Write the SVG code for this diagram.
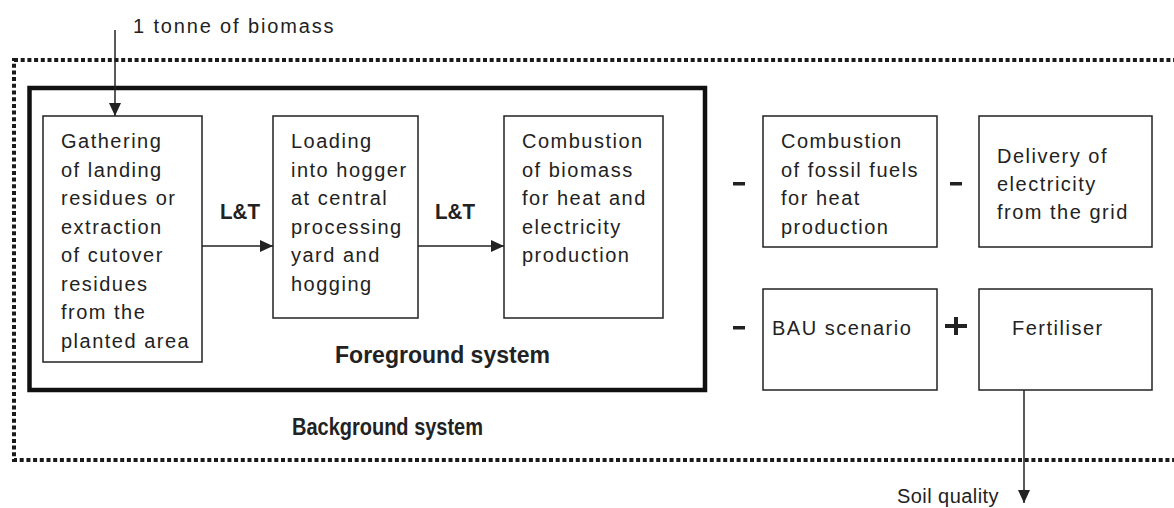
<svg xmlns="http://www.w3.org/2000/svg" width="1174" height="508" viewBox="0 0 1174 508">
<style>
.box{fill:#fff;stroke:#222;stroke-width:1.5}
.t{font-family:"Liberation Sans",Arial,sans-serif;font-size:20px;letter-spacing:1.5px;fill:#222}
.b{font-family:"Liberation Sans",Arial,sans-serif;font-size:22px;font-weight:bold;fill:#222}
.ln{stroke:#222;stroke-width:1.5;fill:none}
.sign{fill:#222}
</style>
<defs>
<marker id="ah" viewBox="0 0 13 12" refX="13" refY="6" markerWidth="13" markerHeight="12" markerUnits="userSpaceOnUse" orient="auto">
<path d="M0,0 L13,6 L0,12 Z" fill="#222"/>
</marker>
</defs>
<rect width="1174" height="508" fill="#fff"/>
<g id="background-system">
<rect x="14" y="60" width="1175" height="400" fill="none" stroke="#1a1a1a" stroke-width="4" stroke-dasharray="4 2.7"/>
<text class="b" x="292" y="435" style="font-size:24px" textLength="191" lengthAdjust="spacingAndGlyphs">Background system</text>
</g>
<g id="foreground-system">
<rect x="29.5" y="88" width="675.5" height="302" fill="none" stroke="#111" stroke-width="4.5"/>
<text class="b" x="335" y="363" style="font-size:23px" textLength="215" lengthAdjust="spacingAndGlyphs">Foreground system</text>
</g>
<g id="input-label">
<text class="t" x="133" y="33" style="font-size:20px" textLength="202">1 tonne of biomass</text>
</g>
<g id="gathering">
<rect class="box" x="43" y="116" width="159" height="246"/>
<text class="t"><tspan x="61" y="148">Gathering</tspan><tspan x="61" y="177">of landing</tspan><tspan x="61" y="205">residues or</tspan><tspan x="61" y="234">extraction</tspan><tspan x="61" y="262">of cutover</tspan><tspan x="61" y="291">residues</tspan><tspan x="61" y="319">from the</tspan><tspan x="61" y="348">planted area</tspan></text>
</g>
<g id="loading">
<rect class="box" x="273" y="116" width="145" height="202"/>
<text class="t"><tspan x="291" y="148">Loading</tspan><tspan x="291" y="177">into hogger</tspan><tspan x="291" y="205">at central</tspan><tspan x="291" y="234">processing</tspan><tspan x="291" y="262">yard and</tspan><tspan x="291" y="291">hogging</tspan></text>
</g>
<g id="combustion-biomass">
<rect class="box" x="504" y="116" width="159" height="202"/>
<text class="t"><tspan x="522" y="148">Combustion</tspan><tspan x="522" y="177">of biomass</tspan><tspan x="522" y="205">for heat and</tspan><tspan x="522" y="234">electricity</tspan><tspan x="522" y="262">production</tspan></text>
</g>
<g id="combustion-fossil">
<rect class="box" x="763" y="116" width="174" height="131"/>
<text class="t"><tspan x="781" y="148">Combustion</tspan><tspan x="781" y="177">of fossil fuels</tspan><tspan x="781" y="205">for heat</tspan><tspan x="781" y="234">production</tspan></text>
</g>
<g id="delivery-grid">
<rect class="box" x="979" y="116" width="173" height="131"/>
<text class="t"><tspan x="997" y="163">Delivery of</tspan><tspan x="997" y="191">electricity</tspan><tspan x="997" y="219">from the grid</tspan></text>
</g>
<g id="bau">
<rect class="box" x="763" y="289" width="174" height="101"/>
<text class="t" x="772" y="335">BAU scenario</text>
</g>
<g id="fertiliser">
<rect class="box" x="979" y="289" width="173" height="101"/>
<text class="t" x="1012" y="335">Fertiliser</text>
</g>
<g id="signs">
<rect class="sign" x="733" y="182" width="12" height="3.5"/>
<rect class="sign" x="950" y="182" width="12" height="3.5"/>
<rect class="sign" x="733" y="326" width="12" height="3.5"/>
<rect class="sign" x="945" y="324" width="22" height="4"/>
<rect class="sign" x="954" y="317" width="4" height="18"/>
</g>
<g id="connectors">
<line class="ln" x1="115" y1="30" x2="115" y2="116" marker-end="url(#ah)"/>
<line class="ln" x1="202" y1="246" x2="273" y2="246" marker-end="url(#ah)"/>
<line class="ln" x1="418" y1="246" x2="504" y2="246" marker-end="url(#ah)"/>
<line class="ln" x1="1024" y1="390" x2="1024" y2="503" marker-end="url(#ah)"/>
<text class="b" x="220" y="219" textLength="40" lengthAdjust="spacingAndGlyphs">L&amp;T</text>
<text class="b" x="435" y="219" textLength="40" lengthAdjust="spacingAndGlyphs">L&amp;T</text>
<text class="t" x="897" y="503" textLength="103">Soil quality</text>
</g>
</svg>
